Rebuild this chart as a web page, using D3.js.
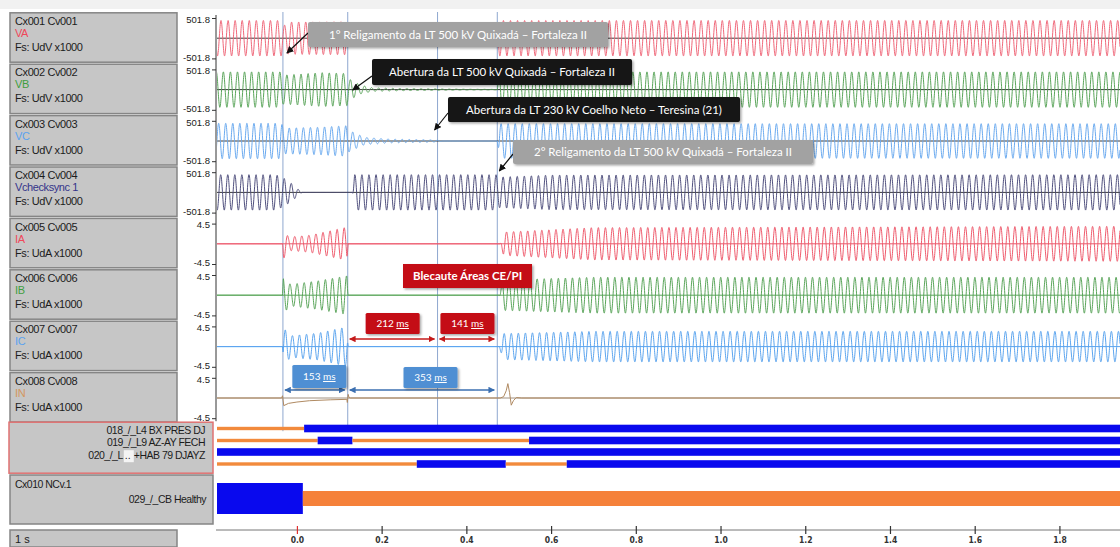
<!DOCTYPE html>
<html>
<head>
<meta charset="utf-8">
<script src="https://cdn.jsdelivr.net/npm/d3@7"></script>
<style>
  body { margin: 0; background: #fff; }
  svg { display: block; font-family: "Liberation Sans", Arial, sans-serif; }
</style>
</head>
<body>
<svg id="chart" width="1120" height="547"></svg>
<script>
// ---------------- data ----------------
const timeTicks = [0.0, 0.2, 0.4, 0.6, 0.8, 1.0, 1.2, 1.4, 1.6, 1.8];
const timeDomain = [-0.191, 1.943];
const systemFrequency = 60; // Hz

const channelIds   = ["Cx001 Cv001", "Cx002 Cv002", "Cx003 Cv003", "Cx004 Cv004",
                      "Cx005 Cv005", "Cx006 Cv006", "Cx007 Cv007", "Cx008 Cv008"];
const channelNames = ["VA", "VB", "VC", "Vchecksync 1", "IA", "IB", "IC", "IN"];
const channelScales = ["Fs: UdV x1000", "Fs: UdV x1000", "Fs: UdV x1000", "Fs: UdV x1000",
                       "Fs: UdA x1000", "Fs: UdA x1000", "Fs: UdA x1000", "Fs: UdA x1000"];
const channelRanges = [501.8, 501.8, 501.8, 501.8, 4.5, 4.5, 4.5, 4.5];
const channelPhaseDeg = [0, -120, 120, 15, 200, 80, -40, 0];

// event cursors: reference cursor and measured intervals (ms)
const referenceCursor = 0.120;
const intervalsMs = { first: 153, opening230: 212, reclose: 141, total: 353 };

// peak envelopes [time s, peak value] of the sinusoidal channels
const envVA = [[-0.191, 440], [-0.036, 440], [-0.032, 300], [-0.02, 400], [0.118, 410], [0.124, 80],
               [0.18, 20], [0.30, 5], [0.33, 0], [0.472, 0], [0.476, 440], [1.943, 440]];
const envVB = [[-0.191, 440], [-0.036, 440], [-0.032, 360], [0.00, 380], [0.06, 420], [0.118, 400],
               [0.124, 260], [0.15, 110], [0.18, 40], [0.25, 25], [0.33, 15], [0.40, 8], [0.47, 5],
               [0.473, 0], [0.477, 440], [1.943, 440]];
const envVC = [[-0.191, 440], [-0.036, 440], [-0.032, 320], [0.05, 340], [0.118, 380], [0.124, 260],
               [0.16, 90], [0.22, 45], [0.30, 30], [0.33, 20], [0.345, 0], [0.473, 0], [0.478, 430],
               [1.943, 430]];
const envVchk = [[-0.191, 440], [-0.05, 440], [-0.032, 360], [-0.01, 200], [0.005, 60], [0.012, 0],
                 [0.131, 0], [0.136, 440], [0.470, 440], [0.476, 380], [0.60, 430], [1.943, 440]];
const envIA = [[-0.191, 0], [-0.034, 0], [-0.032, 3.4], [-0.02, 1.5], [0.03, 1.9], [0.118, 3.7],
               [0.121, 0], [0.480, 0], [0.488, 2.6], [0.70, 3.6], [1.943, 3.9]];
const envIB = [[-0.191, 0], [-0.034, 0], [-0.032, 4.0], [-0.015, 2.4], [0.05, 3.2], [0.118, 4.3],
               [0.121, 0], [0.478, 0], [0.486, 3.4], [0.70, 4.0], [1.943, 4.0]];
const envIC = [[-0.191, 0], [-0.034, 0], [-0.032, 4.2], [-0.015, 2.4], [0.05, 3.0], [0.118, 4.4],
               [0.121, 0], [0.478, 0], [0.486, 2.9], [0.70, 3.4], [1.943, 3.4]];
// neutral current samples [time s, value]
const samplesIN = [[-0.191, 0], [-0.036, 0], [-0.034, 0.5], [-0.031, -1.7], [-0.02, -1.2], [0.0, -0.9],
                   [0.03, -0.6], [0.08, -0.4], [0.118, -0.3], [0.119, -1.0], [0.121, 0.8], [0.123, 0.1],
                   [0.126, 0], [0.48, 0], [0.488, 0.3], [0.494, 1.6], [0.498, 3.2], [0.502, 1.2],
                   [0.506, -1.6], [0.511, -0.6], [0.518, 0.1], [0.53, 0], [1.943, 0]];
const channelEnvelopes = [envVA, envVB, envVC, envVchk, envIA, envIB, envIC, null];

// digital channels: state transitions [time s, state] (1 = set)
const digitalLabels = ["018_/_L4 BX PRES DJ", "019_/_L9 AZ-AY FECH", "020_/_L", "+HAB 79 DJAYZ"];
const digital018 = [[-0.191, 0], [0.017, 1]];
const digital019 = [[-0.191, 0], [0.049, 1], [0.131, 0], [0.548, 1]];
const digital020a = [[-0.191, 1]];
const digital020b = [[-0.191, 0], [0.283, 1], [0.493, 0], [0.637, 1]];
const digitalTraces = [digital018, digital019, digital020a, digital020b];
const cbHealthyLabel = ["Cx010 NCv.1", "029_/_CB Healthy"];
const cbHealthy = [[-0.191, 1], [0.014, 0]];

const eventNotes = [
  "1° Religamento da LT 500 kV Quixadá – Fortaleza II",
  "Abertura da LT 500 kV Quixadá – Fortaleza II",
  "Abertura da LT 230 kV Coelho Neto – Teresina (21)",
  "2° Religamento da LT 500 kV Quixadá – Fortaleza II"
];
const blackoutNote = "Blecaute Áreas CE/PI";
const timebaseLabel = "1 s";

// ---------------- styling ----------------
const traceColors = ["#f0687a", "#5aa55a", "#6aaaf0", "#50507e", "#ef5a6c", "#5aa55a", "#5aa4ef", "#b08a62"];
const nameColors  = ["#f0485a", "#3f9e3f", "#5aa2f0", "#34348a", "#f0485a", "#3f9e3f", "#5aa2f0", "#d49660"];
const zeroColors  = ["#3a3a3a", "#3a3a3a", "#3a3a3a", "#3a3a3a", "#e8586a", "#5aa55a", "#5aa4ef", "#a09080"];

const svg = d3.select("#chart");
const W = 1120;
const plotLeft = 216;
const rowTop0 = 12, rowH = 51.4;
const x = d3.scaleLinear().domain(timeDomain).range([plotLeft, W]);

const defs = svg.append("defs");
defs.append("clipPath").attr("id", "plotClip")
  .append("rect").attr("x", plotLeft + 1).attr("y", 0).attr("width", W - plotLeft).attr("height", 547);
function marker(id, color, size) {
  defs.append("marker").attr("id", id).attr("viewBox", "0 0 10 10")
    .attr("refX", 9).attr("refY", 5).attr("markerWidth", size).attr("markerHeight", size)
    .attr("orient", "auto-start-reverse")
    .append("path").attr("d", "M0,0 L10,5 L0,10 z").attr("fill", color);
}
marker("arrBlack", "#111", 6);
marker("arrRed", "#c41a1a", 5);
marker("arrBlue", "#3b6fb0", 5);
const shadow = defs.append("filter").attr("id", "shadow").attr("x", "-10%").attr("y", "-20%")
  .attr("width", "130%").attr("height", "160%");
shadow.append("feDropShadow").attr("dx", 1.5).attr("dy", 1.5).attr("stdDeviation", 1.2)
  .attr("flood-color", "#000").attr("flood-opacity", 0.35);

// top strip
svg.append("rect").attr("x", 0).attr("y", 0).attr("width", W).attr("height", 9).attr("fill", "#f1f1f1");

// ---------------- channel label boxes ----------------
const labelG = svg.append("g");
channelIds.forEach((id, i) => {
  const top = rowTop0 + i * rowH;
  labelG.append("rect").attr("x", 10).attr("y", top + 0.8).attr("width", 167).attr("height", rowH - 2)
    .attr("fill", "#c6c6c6").attr("stroke", "#858585").attr("stroke-width", 1.5);
  labelG.append("text").attr("x", 15).attr("y", top + 13).attr("font-size", 11).attr("fill", "#1c1c1c")
    .attr("letter-spacing", -0.4).text(id);
  labelG.append("text").attr("x", 15).attr("y", top + 25).attr("font-size", 11).attr("fill", nameColors[i])
    .attr("letter-spacing", -0.4).text(channelNames[i]);
  labelG.append("text").attr("x", 15).attr("y", top + 39).attr("font-size", 11).attr("fill", "#1c1c1c")
    .attr("letter-spacing", -0.4).text(channelScales[i]);
});

// digital label box
const digTop = rowTop0 + 8 * rowH;
labelG.append("rect").attr("x", 9).attr("y", digTop - 1).attr("width", 204).attr("height", 51)
  .attr("fill", "#c6c6c6").attr("stroke", "#e07272").attr("stroke-width", 1.5);
const digLabelY = [digTop + 11, digTop + 23, digTop + 36];
labelG.append("text").attr("x", 205).attr("y", digLabelY[0]).attr("text-anchor", "end").attr("font-size", 10.5)
  .attr("letter-spacing", -0.5).attr("fill", "#1c1c1c").text(digitalLabels[0]);
labelG.append("text").attr("x", 205).attr("y", digLabelY[1]).attr("text-anchor", "end").attr("font-size", 10.5)
  .attr("letter-spacing", -0.5).attr("fill", "#1c1c1c").text(digitalLabels[1]);
// third label: name partly highlighted
const l3b = labelG.append("text").attr("x", 205).attr("y", digLabelY[2]).attr("text-anchor", "end")
  .attr("font-size", 10.5).attr("letter-spacing", -0.5).attr("fill", "#1c1c1c").text(digitalLabels[3]);
const l3bBox = l3b.node().getBBox();
labelG.append("rect").attr("x", l3bBox.x - 10).attr("y", digLabelY[2] - 9).attr("width", 10).attr("height", 12)
  .attr("fill", "#f4f4f4");
labelG.append("text").attr("x", l3bBox.x - 9).attr("y", digLabelY[2]).attr("font-size", 10.5)
  .attr("fill", "#1c1c1c").text("..");
labelG.append("text").attr("x", l3bBox.x - 11).attr("y", digLabelY[2]).attr("text-anchor", "end")
  .attr("font-size", 10.5).attr("letter-spacing", -0.5).attr("fill", "#1c1c1c").text(digitalLabels[2]);

// CB healthy label box
labelG.append("rect").attr("x", 10).attr("y", 475).attr("width", 203).attr("height", 49)
  .attr("fill", "#c6c6c6").attr("stroke", "#858585").attr("stroke-width", 1.5);
labelG.append("text").attr("x", 15).attr("y", 488).attr("font-size", 10.5).attr("letter-spacing", -0.5)
  .attr("fill", "#1c1c1c").text(cbHealthyLabel[0]);
labelG.append("text").attr("x", 206).attr("y", 503).attr("text-anchor", "end").attr("font-size", 10.5)
  .attr("letter-spacing", -0.5).attr("fill", "#1c1c1c").text(cbHealthyLabel[1]);

// timebase box
labelG.append("rect").attr("x", 10).attr("y", 530).attr("width", 167).attr("height", 17)
  .attr("fill", "#c6c6c6").attr("stroke", "#858585").attr("stroke-width", 1.5);
labelG.append("text").attr("x", 15).attr("y", 543).attr("font-size", 11).attr("fill", "#1c1c1c").text(timebaseLabel);

// ---------------- value axes ----------------
const axisG = svg.append("g");
axisG.append("line").attr("x1", plotLeft).attr("x2", plotLeft).attr("y1", rowTop0 + 3).attr("y2", digTop - 2)
  .attr("stroke", "#333").attr("stroke-width", 1);

const rowScales = channelRanges.map((r, i) => {
  const top = rowTop0 + i * rowH;
  return d3.scaleLinear().domain([-r, r]).range([top + rowH - 5, top + 6]);
});
// plain hyphen minus, one decimal
const rangeFormat = d => (d < 0 ? "-" : "") + Math.abs(d).toFixed(1);
rowScales.forEach((y, i) => {
  const r = channelRanges[i];
  const ax = d3.axisLeft(y).tickValues([-r, r]).tickSize(4).tickPadding(2).tickFormat(rangeFormat);
  const g = axisG.append("g").attr("transform", `translate(${plotLeft},0)`).call(ax);
  g.select(".domain").remove();
  g.selectAll("text").attr("font-size", 9.5).attr("fill", "#222").attr("font-family", "Liberation Sans, Arial")
    .attr("dy", (d) => d > 0 ? "0.45em" : "0.2em");
  g.selectAll("line").attr("stroke", "#333");
});

// ---------------- event cursors ----------------
const cursors = [
  referenceCursor - intervalsMs.first / 1000,
  referenceCursor,
  referenceCursor + intervalsMs.opening230 / 1000,
  referenceCursor + intervalsMs.total / 1000
];
const plot = svg.append("g").attr("clip-path", "url(#plotClip)");
plot.selectAll("line.cursor").data(cursors).join("line").attr("class", "cursor")
  .attr("x1", d => x(d)).attr("x2", d => x(d)).attr("y1", rowTop0).attr("y2", digTop + 8)
  .attr("stroke", "#8ea7cf").attr("stroke-width", 1);

// ---------------- analog traces ----------------
const sampleStep = 0.0004;
const times = d3.range(timeDomain[0], timeDomain[1] + sampleStep, sampleStep);
channelEnvelopes.forEach((env, i) => {
  const y = rowScales[i];
  plot.append("line").attr("x1", plotLeft).attr("x2", W).attr("y1", y(0)).attr("y2", y(0))
    .attr("stroke", zeroColors[i]).attr("stroke-width", 1);
  let pts;
  if (env) {
    const amp = d3.scaleLinear().domain(env.map(d => d[0])).range(env.map(d => d[1])).clamp(true);
    const ph = channelPhaseDeg[i] * Math.PI / 180;
    pts = times.map(t => [t, amp(t) * Math.sin(2 * Math.PI * systemFrequency * t + ph)]);
  } else {
    pts = samplesIN;
  }
  const line = d3.line().x(d => x(d[0])).y(d => y(d[1]));
  plot.append("path").attr("d", line(pts)).attr("fill", "none")
    .attr("stroke", traceColors[i]).attr("stroke-width", 1).attr("stroke-linejoin", "round");
});

// ---------------- digital traces ----------------
function segments(tr) {
  return tr.map((d, k) => ({ t0: d[0], t1: k + 1 < tr.length ? tr[k + 1][0] : timeDomain[1], s: d[1] }));
}
const digY = [428.5, 440.5, 452, 464];
digitalTraces.forEach((tr, k) => {
  plot.selectAll(null).data(segments(tr)).join("rect")
    .attr("x", d => x(d.t0)).attr("width", d => x(d.t1) - x(d.t0))
    .attr("y", d => d.s ? digY[k] - 3.8 : digY[k] - 1.7)
    .attr("height", d => d.s ? 7.6 : 3.4)
    .attr("fill", d => d.s ? "#0909ee" : "#f28a3c");
});
plot.selectAll(null).data(segments(cbHealthy)).join("rect")
  .attr("x", d => x(d.t0)).attr("width", d => x(d.t1) - x(d.t0))
  .attr("y", d => d.s ? 483 : 491).attr("height", d => d.s ? 31 : 15)
  .attr("fill", d => d.s ? "#0909ee" : "#f5813a");

// ---------------- time axis ----------------
const tAxis = d3.axisBottom(x).tickValues(timeTicks).tickSize(0).tickPadding(7).tickFormat(d3.format(".1f"));
const tg = svg.append("g").attr("transform", "translate(0,530)").call(tAxis);
tg.select(".domain").attr("d", `M${plotLeft},0H${W}`).attr("stroke", "#777");
tg.selectAll("text").attr("font-size", 8.5).attr("font-weight", "bold").attr("fill", "#333")
  .attr("font-family", "DejaVu Sans Condensed, Liberation Sans");
tg.selectAll(".tick").append("line").attr("y1", -4).attr("y2", 4)
  .attr("stroke", d => d === 0 ? "#e03030" : "#333").attr("stroke-width", 1.2);

// ---------------- annotations ----------------
const noteFont = "Lato, 'Open Sans', sans-serif";
const noteLayout = [
  { x: 308, y: 22, w: 300, h: 25, fill: "#a2a2a2", from: [308, 33], cursor: 0, tipDx: 4, tipY: 53 },
  { x: 372, y: 59, w: 260, h: 26, fill: "#121212", from: [372, 76], cursor: 1, tipDx: 5, tipY: 90 },
  { x: 448, y: 97, w: 292, h: 25, fill: "#121212", from: [448, 113], cursor: 2, tipDx: -3, tipY: 130 },
  { x: 513, y: 140, w: 300, h: 24, fill: "#a2a2a2", from: [513, 154], cursor: 3, tipDx: 2, tipY: 171 }
];
const noteG = svg.append("g");
eventNotes.forEach((txt, k) => {
  const L = noteLayout[k];
  noteG.append("line").attr("x1", L.from[0]).attr("y1", L.from[1])
    .attr("x2", x(cursors[L.cursor]) + L.tipDx).attr("y2", L.tipY)
    .attr("stroke", "#111").attr("stroke-width", 1.2).attr("marker-end", "url(#arrBlack)");
  noteG.append("rect").attr("x", L.x).attr("y", L.y).attr("width", L.w).attr("height", L.h)
    .attr("rx", 2).attr("fill", L.fill).attr("filter", "url(#shadow)");
  noteG.append("text").attr("x", L.x + L.w / 2).attr("y", L.y + L.h / 2 + 4).attr("text-anchor", "middle")
    .attr("font-family", noteFont).attr("font-size", 11.5).attr("fill", "#fff").text(txt);
});

// blackout tag
noteG.append("rect").attr("x", 403).attr("y", 264).attr("width", 129).attr("height", 24)
  .attr("fill", "#c40f12").attr("filter", "url(#shadow)");
noteG.append("text").attr("x", 467.5).attr("y", 280).attr("text-anchor", "middle")
  .attr("font-family", noteFont).attr("font-size", 11.5).attr("font-weight", "bold").attr("fill", "#fff")
  .text(blackoutNote);

// interval dimensions
const dims = [
  { t0: cursors[1], t1: cursors[2], ms: intervalsMs.opening230, y: 339, box: [313, 21], dx: 0, fill: "#c40f12", mk: "arrRed", col: "#c41a1a" },
  { t0: cursors[2], t1: cursors[3], ms: intervalsMs.reclose, y: 339, box: [313, 21], dx: 0, fill: "#c40f12", mk: "arrRed", col: "#c41a1a" },
  { t0: cursors[0], t1: cursors[1], ms: intervalsMs.first, y: 390, box: [365, 23], dx: 4, fill: "#4f8fd3", mk: "arrBlue", col: "#3b6fb0" },
  { t0: cursors[1], t1: cursors[3], ms: intervalsMs.total, y: 390, box: [367, 21], dx: 8, fill: "#4f8fd3", mk: "arrBlue", col: "#3b6fb0" }
];
dims.forEach(d => {
  const x0 = x(d.t0) + 2, x1 = x(d.t1) - 3;
  noteG.append("line").attr("x1", x0).attr("x2", x1).attr("y1", d.y).attr("y2", d.y)
    .attr("stroke", d.col).attr("stroke-width", 1.3)
    .attr("marker-start", `url(#${d.mk})`).attr("marker-end", `url(#${d.mk})`);
  const cx = (x(d.t0) + x(d.t1)) / 2 + d.dx;
  noteG.append("rect").attr("x", cx - 27).attr("y", d.box[0]).attr("width", 54).attr("height", d.box[1])
    .attr("rx", 1.5).attr("fill", d.fill).attr("filter", "url(#shadow)");
  const t = noteG.append("text").attr("x", cx).attr("y", d.box[0] + d.box[1] / 2 + 3.5)
    .attr("text-anchor", "middle").attr("font-family", noteFont).attr("font-size", 10).attr("fill", "#fff");
  t.append("tspan").text(d.ms + " ");
  t.append("tspan").attr("text-decoration", "underline").text("ms");
});
</script>
</body>
</html>
